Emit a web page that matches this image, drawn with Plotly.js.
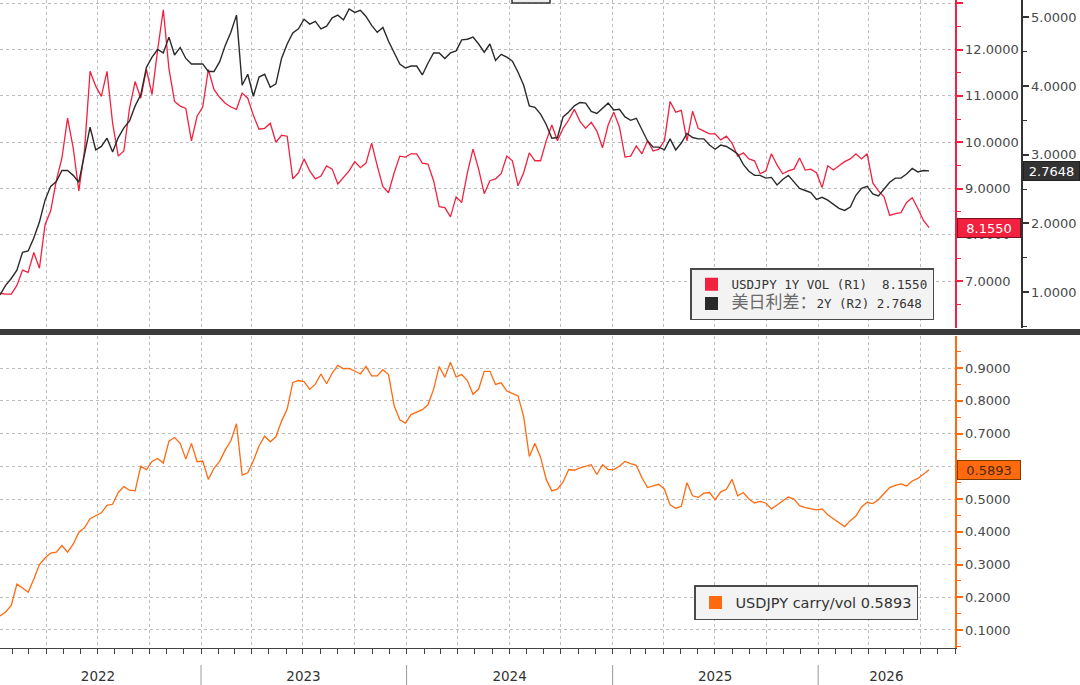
<!DOCTYPE html>
<html><head><meta charset="utf-8">
<script src="https://cdn.plot.ly/plotly-3.0.1.min.js"></script>
<style>html,body{margin:0;padding:0;background:#fff}#chart{width:1080px;height:685px}</style>
</head><body><div id="chart"></div>
<script>
// ---- data (sampled every 10 days from the start date) ----
const startDate = '2022-01-09';
const stepDays = 10;

const volR1 = [
6.74,6.72,6.72,6.91,7.24,7.19,7.62,7.28,8.22,8.52,
9.17,9.66,10.52,9.88,8.95,9.81,11.53,11.21,10.99,11.53,
10.41,9.70,9.81,10.73,11.31,10.95,11.57,11.03,12.00,12.86,
11.59,10.88,10.78,10.73,10.03,10.56,10.76,11.57,11.14,10.97,
10.84,10.76,10.71,11.06,10.95,10.58,10.28,10.30,10.41,10.00,
10.15,10.13,9.21,9.34,9.64,9.38,9.21,9.27,9.49,9.42,
9.10,9.25,9.38,9.58,9.45,9.55,9.98,9.49,9.04,8.91,
9.34,9.70,9.68,9.75,9.75,9.55,9.53,9.17,8.61,8.59,
8.39,8.82,8.70,9.34,9.85,9.42,8.89,9.17,9.21,9.32,
9.70,9.60,9.06,9.34,9.77,9.60,9.60,10.03,10.37,10.03,
10.30,10.48,10.71,10.45,10.30,10.43,10.24,9.88,10.37,10.65,
10.33,9.68,9.70,9.92,9.75,10.03,9.81,9.85,10.03,10.88,
10.65,10.69,10.03,10.67,10.30,10.24,10.18,10.18,10.05,10.13,
9.98,9.70,9.77,9.64,9.60,9.32,9.38,9.75,9.51,9.32,
9.38,9.42,9.66,9.40,9.42,9.34,9.02,9.49,9.40,9.49,
9.58,9.64,9.75,9.64,9.75,9.12,8.95,8.82,8.42,8.46,
8.48,8.70,8.80,8.57,8.31,8.155];

const spread2Y = [
0.96,1.10,1.20,1.32,1.58,1.60,1.79,2.02,2.34,2.54,
2.61,2.77,2.77,2.70,2.60,2.99,3.40,3.07,3.12,3.24,
3.04,3.25,3.39,3.49,3.71,3.87,4.27,4.42,4.53,4.48,
4.71,4.45,4.56,4.40,4.32,4.32,4.32,4.21,4.21,4.35,
4.59,4.78,5.03,4.01,4.17,3.85,4.13,4.17,3.98,4.03,
4.40,4.61,4.77,4.83,4.97,4.90,4.94,4.83,4.87,4.99,
5.03,4.96,5.12,5.07,5.10,5.01,4.88,4.78,4.85,4.65,
4.48,4.32,4.26,4.29,4.29,4.16,4.33,4.48,4.48,4.40,
4.48,4.51,4.67,4.68,4.71,4.61,4.49,4.61,4.37,4.46,
4.42,4.36,4.20,4.01,3.71,3.69,3.59,3.44,3.24,3.25,
3.55,3.62,3.71,3.76,3.75,3.63,3.60,3.68,3.75,3.65,
3.66,3.55,3.50,3.53,3.37,3.20,3.11,3.11,3.07,3.23,
3.07,3.17,3.31,3.25,3.23,3.23,3.14,3.08,3.14,3.12,
3.07,3.01,2.86,2.76,2.70,2.70,2.66,2.67,2.56,2.64,
2.70,2.60,2.51,2.48,2.45,2.35,2.38,2.34,2.28,2.22,
2.19,2.24,2.41,2.51,2.54,2.43,2.40,2.50,2.60,2.66,
2.66,2.72,2.80,2.75,2.77,2.7648];

const carryVol = [
0.143,0.155,0.175,0.240,0.228,0.215,0.255,0.300,0.320,0.335,
0.338,0.358,0.338,0.362,0.398,0.412,0.440,0.448,0.458,0.481,
0.484,0.520,0.538,0.527,0.525,0.600,0.590,0.615,0.624,0.610,
0.677,0.688,0.670,0.622,0.670,0.614,0.616,0.560,0.594,0.615,
0.650,0.678,0.730,0.573,0.580,0.617,0.662,0.692,0.675,0.690,
0.738,0.775,0.856,0.862,0.859,0.835,0.851,0.882,0.852,0.885,
0.908,0.898,0.899,0.891,0.882,0.905,0.876,0.876,0.895,0.880,
0.785,0.742,0.732,0.758,0.765,0.773,0.788,0.835,0.905,0.872,
0.918,0.873,0.880,0.862,0.820,0.836,0.890,0.890,0.850,0.855,
0.830,0.822,0.815,0.752,0.630,0.670,0.628,0.560,0.525,0.530,
0.552,0.590,0.588,0.595,0.600,0.605,0.575,0.605,0.590,0.590,
0.600,0.615,0.608,0.603,0.565,0.535,0.540,0.545,0.530,0.482,
0.472,0.478,0.550,0.510,0.505,0.518,0.520,0.498,0.522,0.530,
0.560,0.510,0.520,0.500,0.488,0.493,0.488,0.470,0.482,0.495,
0.506,0.500,0.480,0.474,0.471,0.467,0.470,0.452,0.440,0.428,
0.416,0.434,0.448,0.476,0.490,0.486,0.498,0.517,0.535,0.542,
0.546,0.540,0.555,0.563,0.576,0.5893];

const yearLabels = ['2022','2023','2024','2025','2026'];
const yearLabelDates = ['2022-07-02','2023-07-02','2024-07-02','2025-07-02','2026-05-02'];
const yearBounds = ['2023-01-01','2024-01-01','2025-01-01','2026-01-01'];
const redTicks = [7,8,9,10,11,12,13];
const blackTicks = [1,2,3,4,5];
const orangeTicks = [0.1,0.2,0.3,0.4,0.5,0.6,0.7,0.8,0.9];
const xRange = ['2022-01-09','2026-09-01'];

// ---- build ----
function addDays(s,n){const d=new Date(s+'T00:00:00Z');d.setUTCDate(d.getUTCDate()+n);return d.toISOString().slice(0,10);}
const dates = volR1.map((_,i)=>addDays(startDate,i*stepDays));
const last = a => a[a.length-1];
// the last-value tag hides the tick label it sits on (as in the reference)
const orangeText = orangeTicks.map(v => Math.abs(v-last(carryVol))<0.03 ? '' : v.toFixed(4));

const RED='#f2213f', BLACK='#2a2a2a', ORANGE='#ff6a10';
const W=1080, PH=648;
const px = v => v/W, py = v => (PH-v)/PH;

const data = [
 {x:dates,y:volR1,type:'scatter',mode:'lines',xaxis:'x',yaxis:'y',line:{color:RED,width:1.3},showlegend:false,hoverinfo:'skip'},
 {x:dates,y:spread2Y,type:'scatter',mode:'lines',xaxis:'x',yaxis:'y2',line:{color:BLACK,width:1.4},showlegend:false,hoverinfo:'skip'},
 {x:dates,y:carryVol,type:'scatter',mode:'lines',xaxis:'x2',yaxis:'y3',line:{color:ORANGE,width:1.3},showlegend:false,hoverinfo:'skip'},
 {x:[null],y:[null],type:'scatter',mode:'markers',xaxis:'x',yaxis:'y',marker:{symbol:'square',size:13,color:RED},
  name:'USDJPY 1Y VOL (R1)\u00a0 '+last(volR1).toFixed(4),legend:'legend'},
 {x:[null],y:[null],type:'scatter',mode:'markers',xaxis:'x',yaxis:'y2',marker:{symbol:'square',size:13,color:BLACK},
  name:'<span style="font-size:17px;color:#6a6a6a">美日利差：</span>2Y (R2) '+last(spread2Y).toFixed(4),legend:'legend'},
 {x:[null],y:[null],type:'scatter',mode:'markers',xaxis:'x3',yaxis:'y3',marker:{symbol:'square',size:13,color:ORANGE},
  name:'USDJPY carry/vol '+last(carryVol).toFixed(4),legend:'legend2'}
];

const grid = {showgrid:true,gridcolor:'#bdbdbd',griddash:'dot',gridwidth:1};
const xdom = [0, 955/W];
const tickFont = {family:'DejaVu Sans',size:13,color:'#4a4a4a'};

const layout = {
 width:1080,height:685,margin:{l:0,r:0,t:0,b:37},
 paper_bgcolor:'#ffffff',plot_bgcolor:'#ffffff',
 font:{family:'DejaVu Sans',size:13,color:'#4a4a4a'},
 showlegend:true,
 xaxis:Object.assign({domain:xdom,anchor:'y',type:'date',range:xRange,tickmode:'linear',tick0:'2022-01-01',dtick:'M3',
   showticklabels:false,ticks:'',zeroline:false,showline:false},grid),
 xaxis2:Object.assign({domain:xdom,anchor:'y3',type:'date',range:xRange,tickmode:'linear',tick0:'2022-01-01',dtick:'M3',
   showticklabels:false,ticks:'outside',ticklen:5,tickcolor:'#444',tickwidth:1,
   minor:{tickmode:'linear',tick0:'2022-01-01',dtick:'M1',ticks:'outside',ticklen:5,tickcolor:'#444',tickwidth:1,showgrid:false},
   showline:true,linecolor:'#444',linewidth:1,zeroline:false},grid),
 xaxis3:{overlaying:'x2',anchor:'y3',type:'date',range:xRange,tickmode:'array',tickvals:yearLabelDates,ticktext:yearLabels,
   ticks:'outside',ticklen:16,tickcolor:'rgba(0,0,0,0)',showgrid:false,showline:false,zeroline:false,
   tickfont:{family:'DejaVu Sans',size:13.5,color:'#333'}},
 yaxis:Object.assign({domain:[(PH-328)/PH,1],anchor:'x',side:'right',range:[5.99,13.07],tickmode:'array',tickvals:redTicks,
   tickformat:'.4f',ticks:'outside',ticklen:6,tickwidth:2,tickcolor:RED,showline:true,linecolor:RED,linewidth:1.5,zeroline:false,
   minor:{tickmode:'linear',tick0:0.5,dtick:1,ticks:'outside',ticklen:4,tickcolor:RED,tickwidth:1,showgrid:false},
   tickfont:tickFont},grid),
 yaxis2:{overlaying:'y',anchor:'free',position:1021/W,side:'right',range:[0.48,5.25],tickmode:'array',tickvals:blackTicks,
   tickformat:'.4f',ticks:'outside',ticklen:6,tickwidth:2,tickcolor:'#333',showline:true,linecolor:'#333',linewidth:1.5,
   showgrid:false,zeroline:false,
   minor:{tickmode:'linear',tick0:0.5,dtick:1,ticks:'outside',ticklen:4,tickcolor:'#333',tickwidth:1,showgrid:false},
   tickfont:tickFont},
 yaxis3:Object.assign({domain:[0,(PH-336)/PH],anchor:'x2',side:'right',range:[0.045,0.998],tickmode:'array',tickvals:orangeTicks,
   ticktext:orangeText,ticks:'outside',ticklen:6,tickwidth:2,tickcolor:ORANGE,showline:true,linecolor:ORANGE,linewidth:1.5,zeroline:false,
   minor:{tickmode:'linear',tick0:0.05,dtick:0.1,ticks:'outside',ticklen:4,tickcolor:ORANGE,tickwidth:1,showgrid:false},
   tickfont:tickFont},grid),
 legend:{x:px(690),y:py(268),xanchor:'left',yanchor:'top',bgcolor:'#f3f3f3',bordercolor:'#4a4a4a',borderwidth:1.5,
   font:{family:'DejaVu Sans Mono, Noto Sans CJK SC',size:12.5,color:'#333'},tracegroupgap:0,itemclick:false,itemdoubleclick:false},
 legend2:{x:px(694),y:py(585),xanchor:'left',yanchor:'top',bgcolor:'#f3f3f3',bordercolor:'#4a4a4a',borderwidth:1.5,
   font:{family:'DejaVu Sans',size:14.5,color:'#333'},itemclick:false,itemdoubleclick:false},
 shapes:[
   {type:'rect',xref:'paper',yref:'paper',x0:0,x1:1,y0:py(335),y1:py(329),fillcolor:'#3b3b3b',line:{width:0},layer:'above'},
   {type:'rect',xref:'paper',yref:'paper',x0:px(512),x1:px(550),y0:py(3),y1:py(-4),fillcolor:'#eeeeee',line:{color:'#333',width:1.5},layer:'above'}
 ].concat(yearBounds.map(d=>({type:'line',xref:'x2',yref:'paper',x0:d,x1:d,y0:py(665),y1:py(685),line:{color:'#9a9a9a',width:1}}))),
 annotations:[
   {xref:'paper',x:px(957),xanchor:'left',yref:'y',y:last(volR1),text:last(volR1).toFixed(4),showarrow:false,
    bgcolor:RED,bordercolor:'#7a1020',borderwidth:1,borderpad:1,width:60,height:16,align:'center',
    font:{family:'DejaVu Sans',size:13,color:'#ffffff'}},
   {xref:'paper',x:px(1023),xanchor:'left',yref:'y2',y:last(spread2Y),text:last(spread2Y).toFixed(4),showarrow:false,
    bgcolor:'#333333',bordercolor:'#222',borderwidth:1,borderpad:1,width:53,height:16,align:'center',
    font:{family:'DejaVu Sans',size:13,color:'#ffffff'}},
   {xref:'paper',x:px(957),xanchor:'left',yref:'y3',y:last(carryVol),text:last(carryVol).toFixed(4),showarrow:false,
    bgcolor:ORANGE,bordercolor:'#7a3a00',borderwidth:1,borderpad:1,width:60,height:16,align:'center',
    font:{family:'DejaVu Sans',size:13,color:'#4a2a10'}}
 ]
};

Plotly.newPlot('chart',data,layout,{displayModeBar:false,staticPlot:true});
</script>
</body></html>
